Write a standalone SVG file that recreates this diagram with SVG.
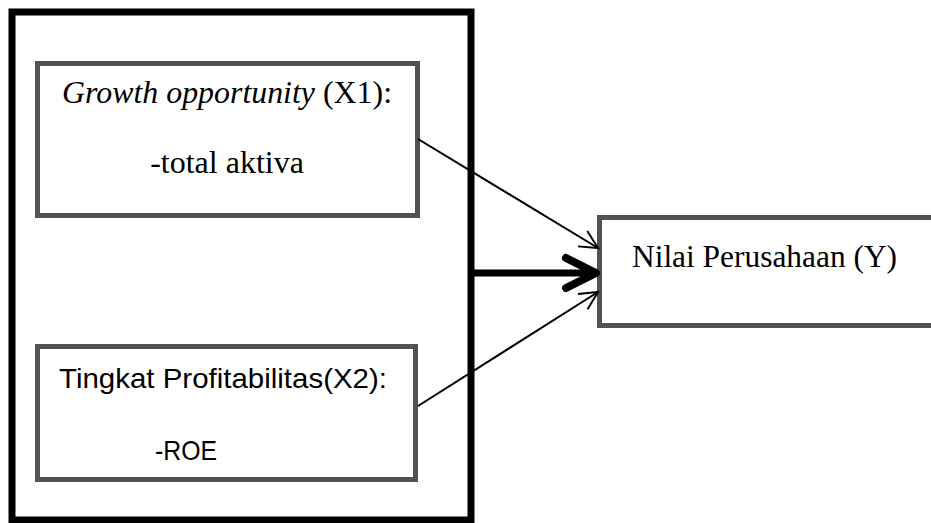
<svg xmlns="http://www.w3.org/2000/svg" width="931" height="523" viewBox="0 0 931 523">
<style>
.box{fill:#fff;stroke:#525252;stroke-width:5}
.serif{font-family:"Liberation Serif","Times New Roman",serif;font-size:32px;fill:#000}
.sans{font-family:"Liberation Sans",Arial,sans-serif;font-size:28px;fill:#000}
.thin{stroke:#000;stroke-width:2;fill:none;marker-end:url(#open)}
</style>
<defs>
<marker id="open" markerUnits="userSpaceOnUse" markerWidth="40" markerHeight="40" viewBox="-30 -20 40 40" refX="0" refY="0" orient="auto">
<path d="M-18,-9 L0,0 L-18,9" fill="none" stroke="#000" stroke-width="2"/>
</marker>
<marker id="thick" markerUnits="userSpaceOnUse" markerWidth="60" markerHeight="60" viewBox="-45 -30 60 60" refX="0" refY="0" orient="auto">
<path d="M-30,-15 L0,0 L-30,15" fill="none" stroke="#000" stroke-width="8" stroke-linecap="round" stroke-linejoin="round"/>
</marker>
</defs>
<g id="group-outer">
<rect x="12" y="12" width="459" height="508" fill="#fff" stroke="#000" stroke-width="7"/>
</g>
<g id="node-x1">
<rect class="box" x="37.5" y="63.5" width="380" height="152"/>
<text class="serif" x="62" y="103" textLength="330" lengthAdjust="spacingAndGlyphs"><tspan font-style="italic">Growth opportunity</tspan> (X1):</text>
<text class="serif" x="227" y="173" text-anchor="middle">-total aktiva</text>
</g>
<g id="node-x2">
<rect class="box" x="37.5" y="346.5" width="378" height="133"/>
<text class="sans" x="59" y="388" textLength="328" lengthAdjust="spacingAndGlyphs">Tingkat Profitabilitas(X2):</text>
<text class="sans" x="155" y="460" textLength="62" lengthAdjust="spacingAndGlyphs">-ROE</text>
</g>
<g id="node-y">
<rect class="box" x="599.5" y="217.5" width="340" height="108"/>
<text class="serif" x="632" y="267" textLength="265" lengthAdjust="spacingAndGlyphs">Nilai Perusahaan (Y)</text>
</g>
<g id="connectors">
<line class="thin" x1="418" y1="139" x2="598" y2="248"/>
<line class="thin" x1="418" y1="406" x2="598" y2="292"/>
<line x1="474" y1="273" x2="596" y2="273" stroke="#000" stroke-width="7" marker-end="url(#thick)"/>
</g>
</svg>
